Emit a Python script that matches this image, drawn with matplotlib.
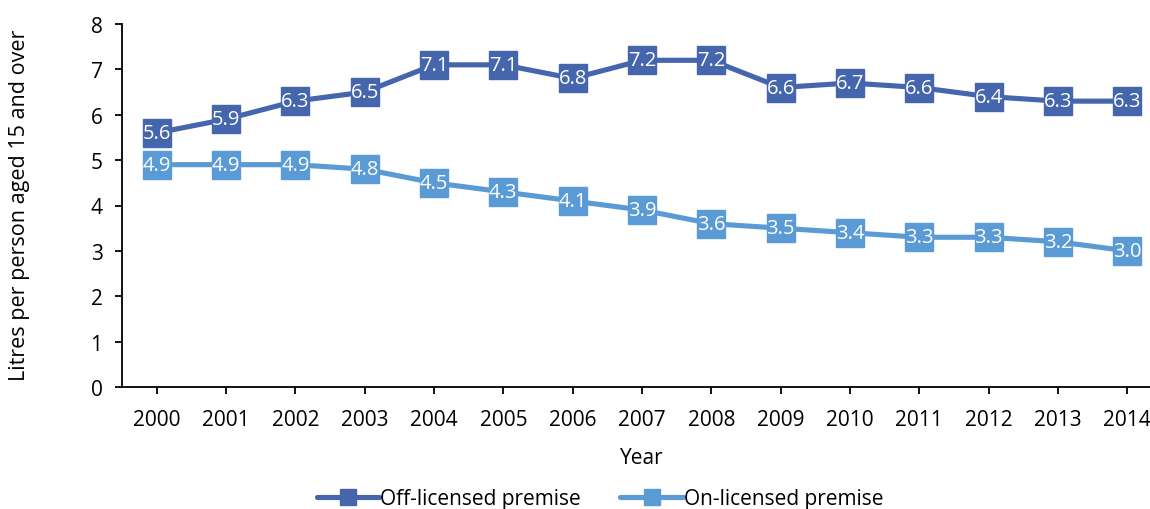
import matplotlib
matplotlib.use("Agg")
import matplotlib.pyplot as plt
from matplotlib.lines import Line2D

plt.rcParams['font.family'] = ['Open Sans', 'DejaVu Sans']

years = [str(y) for y in range(2000, 2015)]
off_licensed = [5.6, 5.9, 6.3, 6.5, 7.1, 7.1, 6.8, 7.2, 7.2, 6.6, 6.7, 6.6, 6.4, 6.3, 6.3]
on_licensed = [4.9, 4.9, 4.9, 4.8, 4.5, 4.3, 4.1, 3.9, 3.6, 3.5, 3.4, 3.3, 3.3, 3.2, 3.0]
series_names = ["Off-licensed premise", "On-licensed premise"]
colors = ["#4565AD", "#5B9BD5"]

W, H = 1150, 510
fig = plt.figure(figsize=(W / 100, H / 100), dpi=100)
ax = fig.add_axes([122 / W, 1 - 388 / H, (1162 - 122) / W, (388 - 25) / H])

x = list(range(len(years)))
for vals, col in zip([off_licensed, on_licensed], colors):
    ax.plot(x, vals, color=col, lw=3.7, marker='s', markersize=20,
            markerfacecolor=col, markeredgecolor=col, solid_capstyle='round',
            zorder=3)
    for xi, v in zip(x, vals):
        ax.text(xi, v, f"{v:.1f}", color='white', ha='center', va='center',
                fontsize=14.5, zorder=4)

ax.set_xlim(-0.5, len(years) - 0.5)
ax.set_ylim(0, 8)
ax.set_yticks(range(0, 9))
ax.set_xticks(x)
ax.set_xticklabels(years)
ax.tick_params(axis='both', labelsize=15, length=5, width=1.3, color='black',
               direction='out')
ax.tick_params(axis='x', pad=11)
ax.tick_params(axis='y', pad=9)
for s in ['top', 'right']:
    ax.spines[s].set_visible(False)
for s in ['left', 'bottom']:
    ax.spines[s].set_linewidth(1.3)

ax.set_xlabel("Year", fontsize=15, labelpad=12)
fig.text(20 / W, 1 - 205 / H, "Litres per person aged 15 and over", rotation=90,
         ha='center', va='center', fontsize=15.5)

handles = [Line2D([0], [0], color=c, lw=3.7, marker='s', markersize=11,
                  markerfacecolor=c, markeredgecolor=c, solid_capstyle='round')
           for c in colors]
fig.legend(handles, series_names, loc='center', bbox_to_anchor=(600 / W, 1 - 500 / H),
           ncol=2, frameon=False, fontsize=15, handlelength=3.0, handletextpad=0.05,
           columnspacing=1.9, borderpad=0)

fig.savefig("out.png", dpi=100)
